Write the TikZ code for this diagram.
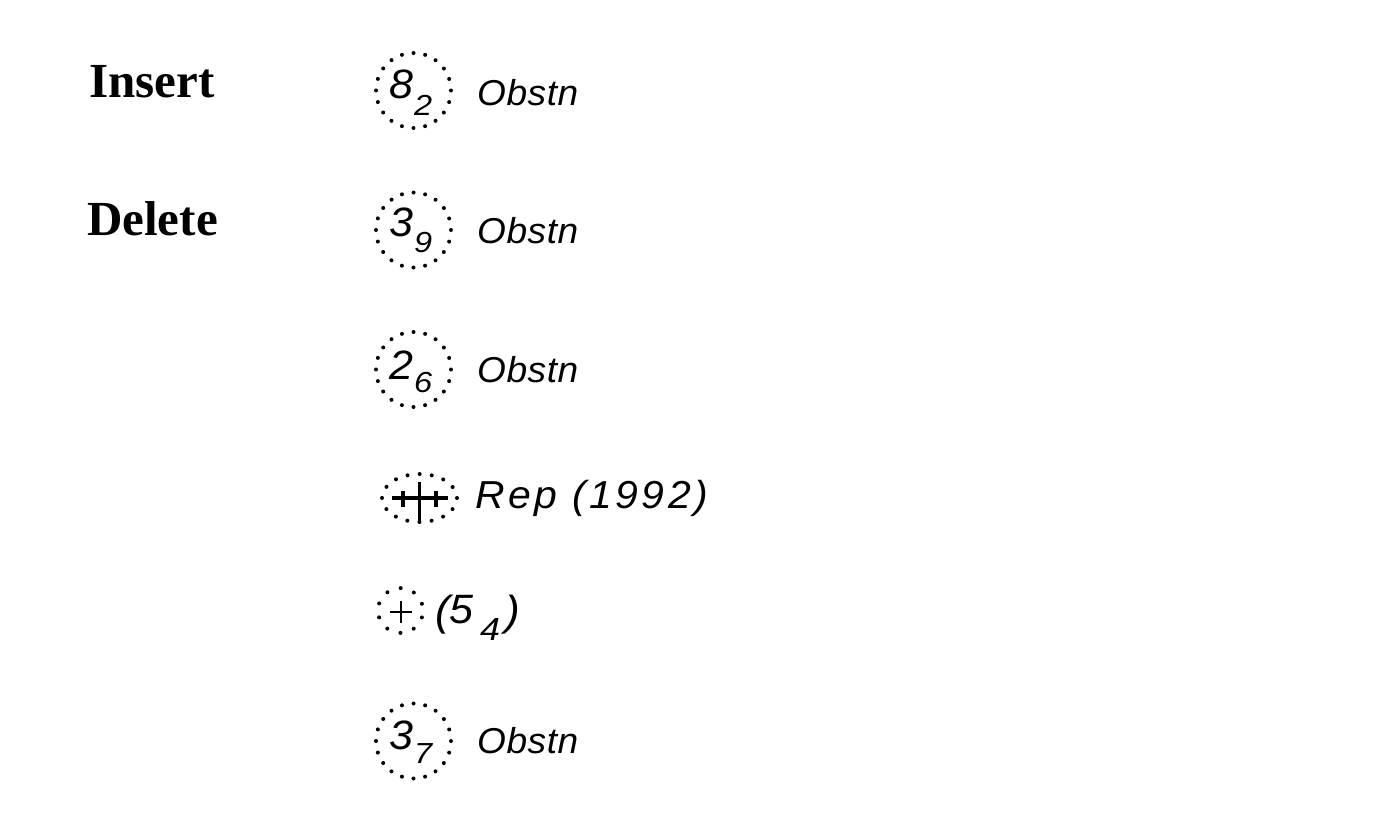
\documentclass[tikz,border=0pt]{standalone}
\usepackage{fontspec}
\setmainfont{Liberation Serif}
\newfontfamily\digfont{Liberation Sans}[FakeStretch=1.05]
\newfontfamily\subfont{Liberation Sans}[FakeStretch=1.12]
\newfontfamily\obfont{Liberation Sans}[FakeStretch=1.03, LetterSpace=1.5]
\newfontfamily\repfont{Liberation Sans}[FakeStretch=1.05, LetterSpace=9]
\tikzset{
  dotring/.style={line width=4pt, line cap=round, dash pattern=on 0pt off #1},
  headlbl/.style={anchor=base west, inner sep=0pt, font=\fontsize{49}{49}\selectfont\bfseries},
  bigdig/.style={anchor=base west, inner sep=0pt, font=\fontsize{41}{41}\digfont\itshape},
  subdig/.style={anchor=base west, inner sep=0pt, font=\fontsize{29}{29}\subfont\itshape},
  oblbl/.style={anchor=base west, inner sep=0pt, font=\fontsize{36}{36}\obfont\itshape},
  replbl/.style={anchor=base west, inner sep=0pt, font=\fontsize{39}{39}\repfont\itshape},
  parlbl/.style={anchor=base west, inner sep=0pt, font=\fontsize{42}{42}\digfont\itshape},
  thickbar/.style={line width=3.3pt},
  thinbar/.style={line width=1.8pt}
}
\begin{document}
\begin{tikzpicture}[x=1pt,y=-1pt]
\useasboundingbox (0,0) rectangle (1399,814);
% headings
\node[headlbl] (ins) at (89,97) {Insert};
\node[headlbl] (del) at (87,235) {Delete};
% row 1
\draw[dotring=11.781pt] (413.5,90.5) circle (37.5);
\node[bigdig] (d1) at (389,98) {8};
\node[subdig] (s1) at (414,115) {2};
\node[oblbl] (o1) at (477,105) {Obstn};
% row 2
\draw[dotring=11.781pt] (413.5,230) circle (37.5);
\node[bigdig] (d2) at (389,236) {3};
\node[subdig] (s2) at (414,252) {9};
\node[oblbl] (o2) at (477,243) {Obstn};
% row 3
\draw[dotring=11.781pt] (413.5,369.5) circle (37.5);
\node[bigdig] (d3) at (389,379) {2};
\node[subdig] (s3) at (414,392) {6};
\node[oblbl] (o3) at (477,382.5) {Obstn};
% row 4
\draw[dotring=12.22pt] (419.5,498) ellipse (37.5 and 24);
\draw[thickbar] (392,498) -- (448,498);
\draw[thickbar] (419.5,482) -- (419.5,523);
\draw[thickbar] (403,491) -- (403,507);
\draw[thickbar] (436,491) -- (436,507);
\node[replbl] (rep) at (475,508) {Rep (1992)};
% row 5
\draw[dotring=14.14pt, shift={(400.5,610.5)}, rotate=-18] (0,0) circle (22.5);
\draw[thinbar] (390,612) -- (412,612);
\draw[thinbar] (401,601) -- (401,623);
\node[parlbl] (lp5) at (435,625) {(};
\node[bigdig] (f5) at (449,623) {5};
\node[anchor=base west, inner sep=0pt, font=\fontsize{32}{32}\subfont\itshape] (s5) at (480,640) {4};
\node[parlbl] (rp5) at (505,625) {)};
% row 6
\draw[dotring=11.781pt] (413.5,741) circle (37.5);
\node[bigdig] (d6) at (389,749) {3};
\node[subdig] (s6) at (414,763) {7};
\node[oblbl] (o6) at (477,753) {Obstn};
\end{tikzpicture}
\end{document}
